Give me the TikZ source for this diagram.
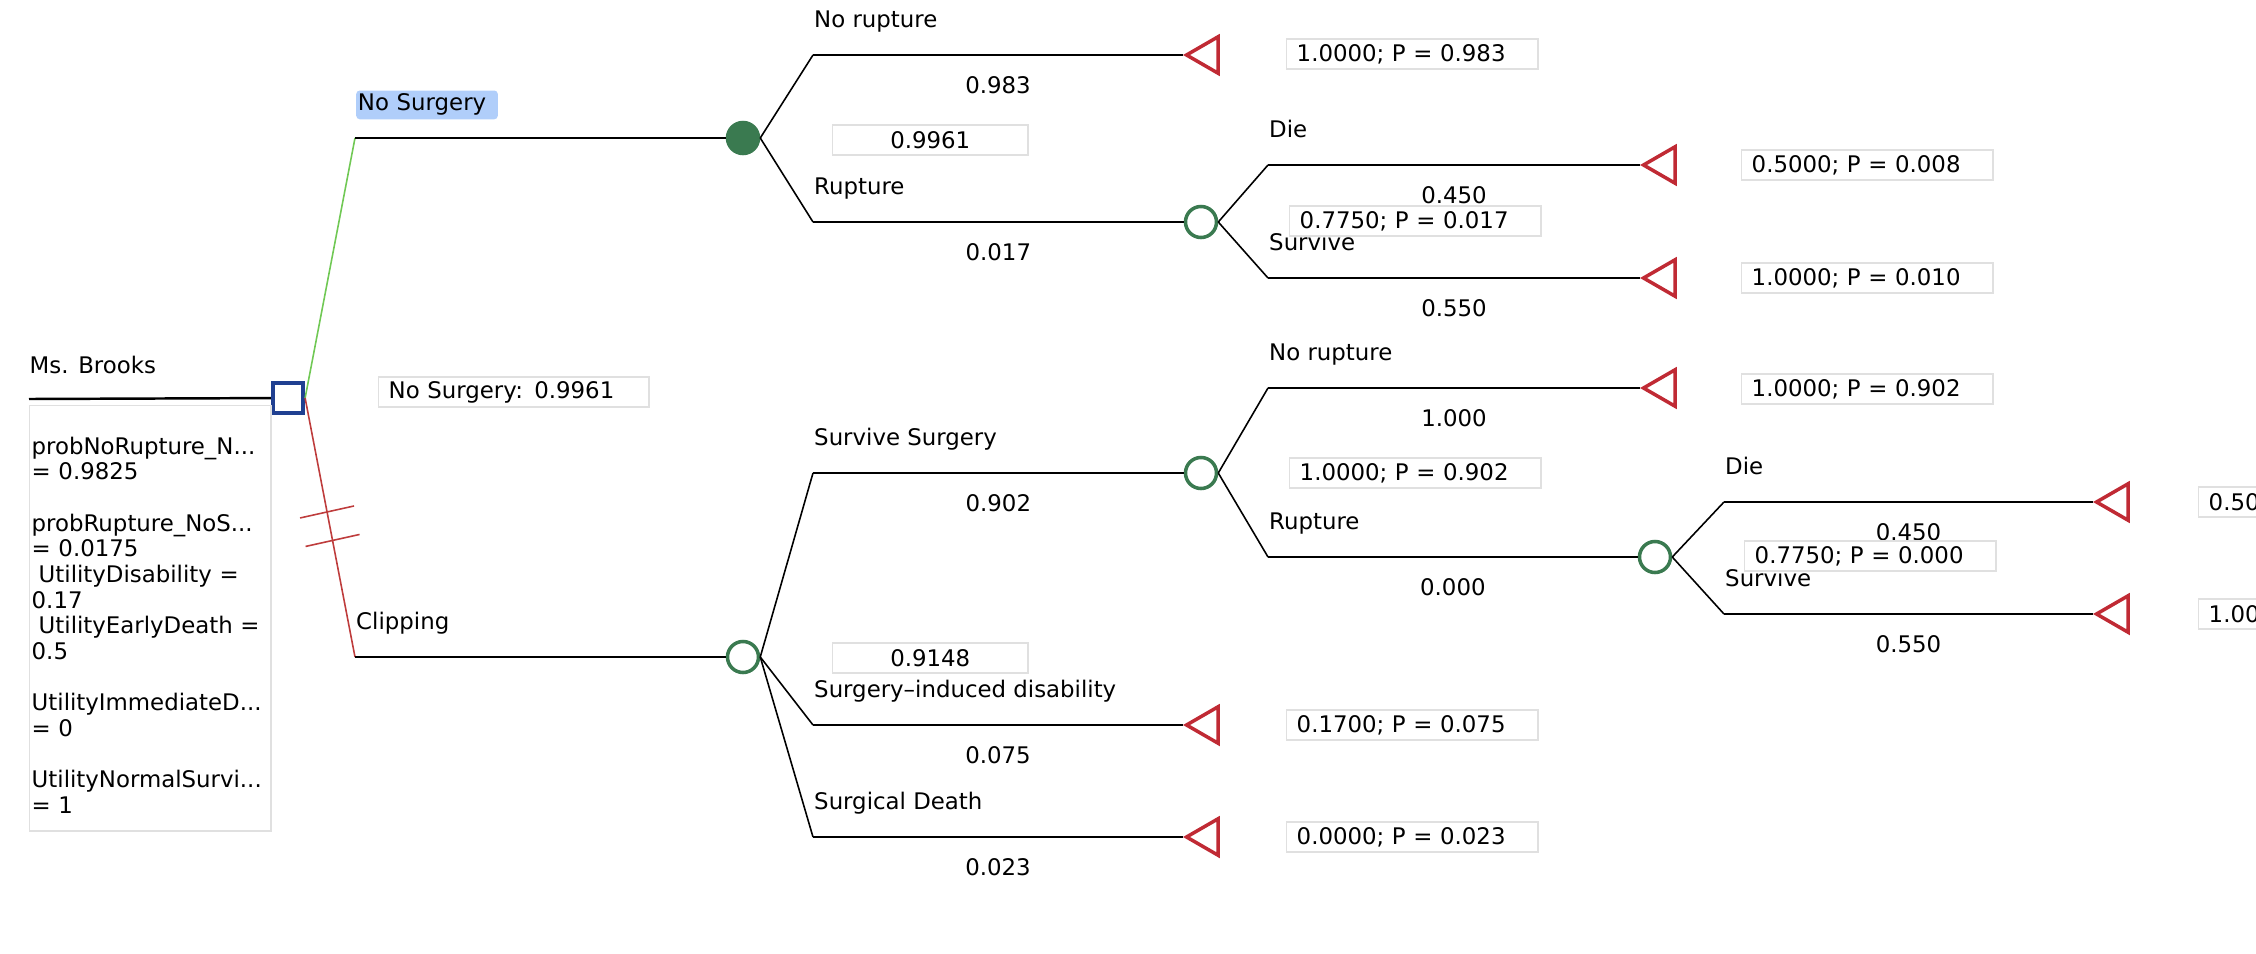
\documentclass[tikz,border=0pt]{standalone}
\usepackage{fontspec}
\setmainfont{DejaVu Sans}
\usetikzlibrary{positioning, shapes.geometric}

\definecolor{decblue}{RGB}{32,64,145}
\definecolor{chgreen}{RGB}{58,122,80}
\definecolor{termred}{RGB}{192,42,52}
\definecolor{nsgreen}{RGB}{112,200,84}
\definecolor{clred}{RGB}{190,60,60}
\definecolor{hlblue}{RGB}{176,206,250}

\begin{document}
\begin{tikzpicture}[
    x=0.01cm, y=-0.01cm,
    every node/.style={font=\fontsize{6.5}{7.3}\selectfont, inner sep=0pt},
    decision/.style={draw=decblue, line width=1.2pt, rectangle, minimum size=0.3cm},
    chance/.style={draw=chgreen, line width=1pt, circle, minimum size=0.31cm},
    terminal/.style={draw=termred, line width=1pt, regular polygon, regular polygon sides=3, shape border rotate=90, minimum size=0.42cm, anchor=corner 1},
    valbox/.style={draw=black!12, fill=white, anchor=west, minimum height=0.3cm, inner xsep=0.1cm, text width=2.31cm, align=left},
    arm/.style={line width=0.7pt},
    leg/.style={line width=0.45pt},
    lbl/.style={pos=0, anchor=base west, yshift=0.27cm},
    prob/.style={midway, anchor=base, yshift=-0.38cm}
  ]
  \clip (0,0) rectangle (2256,954);

  % root and decision
  \coordinate (root) at (29,399);
  \node[anchor=base west] (brooks) at (29,373) {Ms. Brooks};
  \node[decision] (dec) at (288,398) {};
  \draw[arm] (root) -- (dec);
  \node[draw=black!12, anchor=north west, minimum width=2.41cm, minimum height=4.25cm] (vars) at (29,405) {};
  \node[anchor=north west, text width=2.35cm, align=left] (varlist) at (31,436) {probNoRupture\_N...\\= 0.9825\\[7.3pt]probRupture\_NoS...\\= 0.0175\\\hspace*{2pt}UtilityDisability =\\0.17\\\hspace*{2pt}UtilityEarlyDeath =\\0.5\\[7.3pt]UtilityImmediateD...\\= 0\\[7.3pt]UtilityNormalSurvi...\\= 1};

  % no surgery arm
  \coordinate (nsb) at (355,138);
  \node[chance, fill=chgreen] (ns) at (743,138) {};
  \draw[leg, nsgreen] (dec.east) -- (nsb);
  \draw[arm] (nsb) -- node[lbl, fill=hlblue, rounded corners=1pt, inner xsep=0.5pt, inner ysep=1pt, text width=1.38cm, align=left] {No Surgery} (ns);

  % clipping arm
  \coordinate (clb) at (355,657);
  \node[chance] (cl) at (743,657) {};
  \draw[leg, clred] (dec.east) -- (clb) coordinate[pos=0.44] (h1) coordinate[pos=0.55] (h2);
  \draw[leg, clred] ([shift={(-27,6)}]h1) -- ([shift={(27,-6)}]h1);
  \draw[leg, clred] ([shift={(-27,6)}]h2) -- ([shift={(27,-6)}]h2);
  \draw[arm] (clb) -- node[lbl] {Clipping} (cl);
  \node[valbox, text width=2.5cm] (nsval) at (378,392) {No Surgery: 0.9961};

  % no surgery chance
  \coordinate (nrb) at (813,55);
  \coordinate (rub) at (813,222);
  \node[terminal] (nr) at (1183,55) {};
  \node[chance] (ru) at (1201,222) {};
  \draw[leg] (ns.east) -- (nrb);
  \draw[leg] (ns.east) -- (rub);
  \draw[arm] (nrb) -- node[lbl] {No rupture} node[prob] {0.983} (nr.corner 1);
  \draw[arm] (rub) -- node[lbl] {Rupture} node[prob] {0.017} (ru);
  \node[valbox, text width=1.75cm, align=center] (nsev) at (832,140) {0.9961};
  \node[valbox] (nrval) at (1286,54) {1.0000; P = 0.983};

  % rupture chance
  \coordinate (d1b) at (1268,165);
  \coordinate (s1b) at (1268,278);
  \node[terminal] (d1) at (1640,165) {};
  \node[terminal] (s1) at (1640,278) {};
  \draw[leg] (ru.east) -- (d1b);
  \draw[leg] (ru.east) -- (s1b);
  \draw[arm] (d1b) -- node[lbl] {Die} node[prob] {0.450} (d1.corner 1);
  \draw[arm] (s1b) -- node[lbl] {Survive} node[prob] {0.550} (s1.corner 1);
  \node[valbox] (ruev) at (1289,221) {0.7750; P = 0.017};
  \node[valbox] (d1val) at (1741,165) {0.5000; P = 0.008};
  \node[valbox] (s1val) at (1741,278) {1.0000; P = 0.010};

  % clipping chance
  \coordinate (ssb) at (813,473);
  \coordinate (dib) at (813,725);
  \coordinate (sdb) at (813,837);
  \node[chance] (ss) at (1201,473) {};
  \node[terminal] (di) at (1183,725) {};
  \node[terminal] (sd) at (1183,837) {};
  \draw[leg] (cl.east) -- (ssb);
  \draw[leg] (cl.east) -- (dib);
  \draw[leg] (cl.east) -- (sdb);
  \draw[arm] (ssb) -- node[lbl] {Survive Surgery} node[prob] {0.902} (ss);
  \draw[arm] (dib) -- node[lbl] {Surgery–induced disability} node[prob] {0.075} (di.corner 1);
  \draw[arm] (sdb) -- node[lbl] {Surgical Death} node[prob] {0.023} (sd.corner 1);
  \node[valbox, text width=1.75cm, align=center] (clev) at (832,658) {0.9148};
  \node[valbox] (dival) at (1286,725) {0.1700; P = 0.075};
  \node[valbox] (sdval) at (1286,837) {0.0000; P = 0.023};

  % survive surgery chance
  \coordinate (nr2b) at (1268,388);
  \coordinate (ru2b) at (1268,557);
  \node[terminal] (nr2) at (1640,388) {};
  \node[chance] (ru2) at (1655,557) {};
  \draw[leg] (ss.east) -- (nr2b);
  \draw[leg] (ss.east) -- (ru2b);
  \draw[arm] (nr2b) -- node[lbl] {No rupture} node[prob] {1.000} (nr2.corner 1);
  \draw[arm] (ru2b) -- node[lbl] {Rupture} node[prob] {0.000} (ru2);
  \node[valbox] (ssev) at (1289,473) {1.0000; P = 0.902};
  \node[valbox] (nr2val) at (1741,389) {1.0000; P = 0.902};

  % second rupture chance
  \coordinate (d2b) at (1724,502);
  \coordinate (s2b) at (1724,614);
  \node[terminal] (d2) at (2093,502) {};
  \node[terminal] (s2) at (2093,614) {};
  \draw[leg] (ru2.east) -- (d2b);
  \draw[leg] (ru2.east) -- (s2b);
  \draw[arm] (d2b) -- node[lbl] {Die} node[prob] {0.450} (d2.corner 1);
  \draw[arm] (s2b) -- node[lbl] {Survive} node[prob] {0.550} (s2.corner 1);
  \node[valbox] (ru2ev) at (1744,556) {0.7750; P = 0.000};
  \node[valbox] (d2val) at (2198,502) {0.50};
  \node[valbox] (s2val) at (2198,614) {1.00};
\end{tikzpicture}
\end{document}
